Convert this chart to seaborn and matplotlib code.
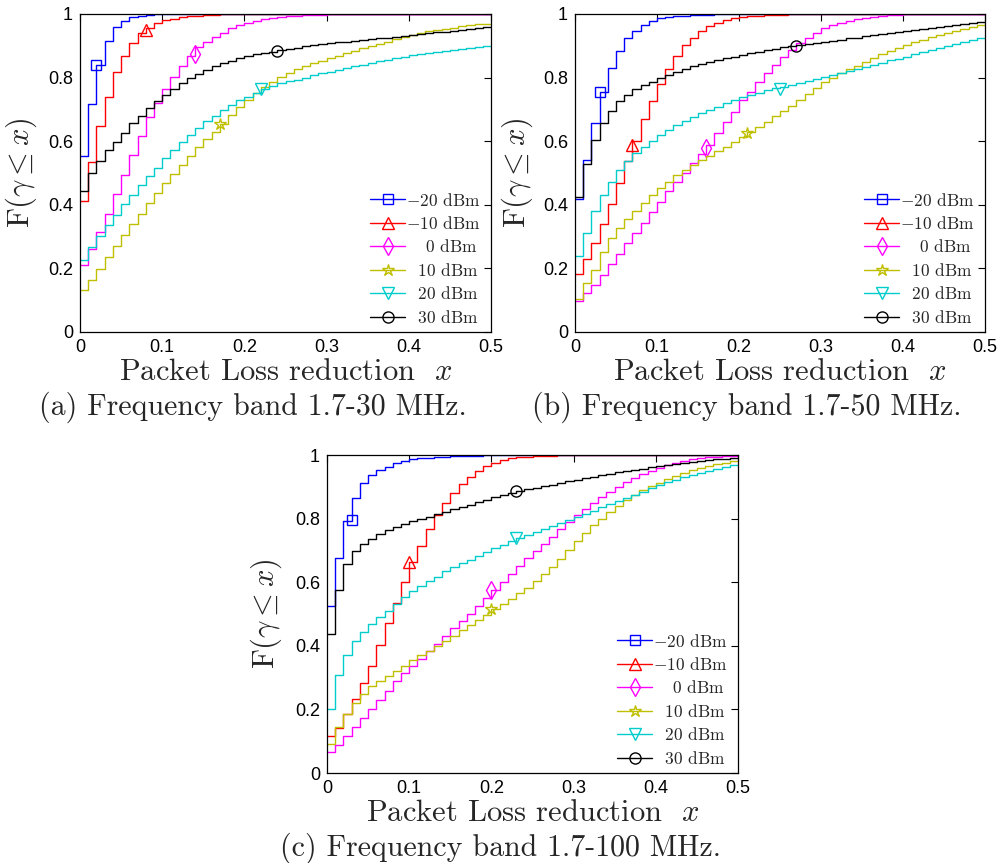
import numpy as np
import pandas as pd
import matplotlib
matplotlib.use("Agg")
import matplotlib.pyplot as plt
from matplotlib.lines import Line2D
import seaborn as sns

# ---------------- data ----------------
series_labels = ["-20 dBm", "-10 dBm", "0 dBm", "10 dBm", "20 dBm", "30 dBm"]
xtick_values = [0, 0.1, 0.2, 0.3, 0.4, 0.5]
xtick_labels = ["0", "0.1", "0.2", "0.3", "0.4", "0.5"]
ytick_values = [0, 0.2, 0.4, 0.6, 0.8, 1.0]
ytick_labels = ["0", "0.2", "0.4", "0.6", "0.8", "1"]
captions = ["(a) Frequency band 1.7-30 MHz.",
            "(b) Frequency band 1.7-50 MHz.",
            "(c) Frequency band 1.7-100 MHz."]

# CDF step values on bins of width 0.01 over [0, 0.5)
a_m20 = [0.552, 0.716, 0.839, 0.914, 0.958, 0.979, 0.990, 0.995, 0.998, 0.999,
         1.0, 1.0, 1.0, 1.0, 1.0, 1.0, 1.0, 1.0, 1.0, 1.0,
         1.0, 1.0, 1.0, 1.0, 1.0, 1.0, 1.0, 1.0, 1.0, 1.0,
         1.0, 1.0, 1.0, 1.0, 1.0, 1.0, 1.0, 1.0, 1.0, 1.0,
         1.0, 1.0, 1.0, 1.0, 1.0, 1.0, 1.0, 1.0, 1.0, 1.0]
a_m10 = [0.413, 0.536, 0.648, 0.740, 0.819, 0.869, 0.910, 0.939, 0.956, 0.971,
         0.980, 0.985, 0.990, 0.993, 0.995, 0.997, 0.998, 0.999, 0.999, 1.0,
         1.0, 1.0, 1.0, 1.0, 1.0, 1.0, 1.0, 1.0, 1.0, 1.0,
         1.0, 1.0, 1.0, 1.0, 1.0, 1.0, 1.0, 1.0, 1.0, 1.0,
         1.0, 1.0, 1.0, 1.0, 1.0, 1.0, 1.0, 1.0, 1.0, 1.0]
a_0 = [0.210, 0.261, 0.316, 0.372, 0.435, 0.494, 0.557, 0.615, 0.675, 0.720,
       0.763, 0.803, 0.838, 0.868, 0.897, 0.913, 0.929, 0.941, 0.955, 0.965,
       0.973, 0.979, 0.984, 0.988, 0.991, 0.993, 0.995, 0.996, 0.997, 0.998,
       0.999, 0.999, 1.0, 1.0, 1.0, 1.0, 1.0, 1.0, 1.0, 1.0,
       1.0, 1.0, 1.0, 1.0, 1.0, 1.0, 1.0, 1.0, 1.0, 1.0]
a_10 = [0.131, 0.164, 0.198, 0.236, 0.271, 0.306, 0.339, 0.372, 0.405, 0.437,
        0.468, 0.497, 0.526, 0.554, 0.581, 0.606, 0.630, 0.654, 0.683, 0.707,
        0.730, 0.751, 0.770, 0.787, 0.803, 0.815, 0.826, 0.836, 0.845, 0.853,
        0.861, 0.869, 0.877, 0.885, 0.892, 0.899, 0.906, 0.913, 0.920, 0.928,
        0.935, 0.940, 0.945, 0.949, 0.953, 0.957, 0.961, 0.964, 0.967, 0.970]
a_20 = [0.227, 0.266, 0.303, 0.337, 0.369, 0.403, 0.431, 0.463, 0.489, 0.515,
        0.547, 0.573, 0.599, 0.620, 0.643, 0.662, 0.680, 0.698, 0.714, 0.730,
        0.740, 0.753, 0.765, 0.774, 0.782, 0.788, 0.794, 0.800, 0.807, 0.813,
        0.819, 0.825, 0.830, 0.836, 0.841, 0.846, 0.851, 0.856, 0.861, 0.866,
        0.871, 0.874, 0.877, 0.880, 0.883, 0.886, 0.889, 0.892, 0.895, 0.898]
a_30 = [0.442, 0.499, 0.538, 0.573, 0.599, 0.625, 0.657, 0.680, 0.704, 0.725,
        0.746, 0.763, 0.782, 0.798, 0.812, 0.824, 0.835, 0.845, 0.853, 0.861,
        0.868, 0.874, 0.878, 0.882, 0.887, 0.890, 0.894, 0.898, 0.901, 0.905,
        0.908, 0.911, 0.913, 0.916, 0.918, 0.921, 0.924, 0.926, 0.929, 0.931,
        0.934, 0.937, 0.939, 0.942, 0.944, 0.947, 0.950, 0.952, 0.955, 0.958]
a_marker_x = [0.02, 0.08, 0.14, 0.17, 0.22, 0.24]
a_marker_y = [0.840, 0.950, 0.875, 0.655, 0.765, 0.885]

b_m20 = [0.418, 0.541, 0.657, 0.754, 0.829, 0.885, 0.924, 0.948, 0.965, 0.979,
         0.986, 0.990, 0.993, 0.995, 0.996, 0.997, 0.998, 0.999, 0.999, 0.999,
         1.0, 1.0, 1.0, 1.0, 1.0, 1.0, 1.0, 1.0, 1.0, 1.0,
         1.0, 1.0, 1.0, 1.0, 1.0, 1.0, 1.0, 1.0, 1.0, 1.0,
         1.0, 1.0, 1.0, 1.0, 1.0, 1.0, 1.0, 1.0, 1.0, 1.0]
b_m10 = [0.183, 0.229, 0.280, 0.339, 0.403, 0.468, 0.539, 0.602, 0.669, 0.727,
         0.779, 0.826, 0.868, 0.901, 0.926, 0.947, 0.962, 0.973, 0.981, 0.986,
         0.990, 0.993, 0.995, 0.996, 0.997, 0.998, 0.999, 0.999, 1.0, 1.0,
         1.0, 1.0, 1.0, 1.0, 1.0, 1.0, 1.0, 1.0, 1.0, 1.0,
         1.0, 1.0, 1.0, 1.0, 1.0, 1.0, 1.0, 1.0, 1.0, 1.0]
b_0 = [0.096, 0.123, 0.149, 0.180, 0.214, 0.246, 0.280, 0.311, 0.344, 0.376,
       0.410, 0.442, 0.473, 0.499, 0.531, 0.559, 0.588, 0.625, 0.659, 0.693,
       0.730, 0.756, 0.787, 0.816, 0.840, 0.864, 0.887, 0.908, 0.926, 0.941,
       0.955, 0.966, 0.973, 0.979, 0.984, 0.988, 0.991, 0.994, 0.996, 0.998,
       0.999, 1.0, 1.0, 1.0, 1.0, 1.0, 1.0, 1.0, 1.0, 1.0]
b_10 = [0.104, 0.154, 0.196, 0.253, 0.295, 0.327, 0.355, 0.382, 0.407, 0.431,
        0.452, 0.473, 0.494, 0.510, 0.525, 0.540, 0.555, 0.568, 0.583, 0.598,
        0.613, 0.628, 0.645, 0.661, 0.678, 0.695, 0.712, 0.730, 0.748, 0.766,
        0.785, 0.800, 0.813, 0.826, 0.838, 0.850, 0.862, 0.873, 0.884, 0.894,
        0.903, 0.911, 0.919, 0.927, 0.934, 0.941, 0.948, 0.954, 0.960, 0.966]
b_20 = [0.238, 0.311, 0.379, 0.431, 0.473, 0.510, 0.538, 0.562, 0.583, 0.602,
        0.620, 0.636, 0.651, 0.665, 0.677, 0.688, 0.698, 0.709, 0.719, 0.730,
        0.738, 0.746, 0.753, 0.760, 0.766, 0.772, 0.778, 0.784, 0.790, 0.796,
        0.802, 0.808, 0.815, 0.821, 0.828, 0.834, 0.841, 0.847, 0.854, 0.860,
        0.866, 0.873, 0.879, 0.886, 0.892, 0.899, 0.906, 0.912, 0.919, 0.926]
b_30 = [0.426, 0.529, 0.604, 0.657, 0.695, 0.725, 0.746, 0.763, 0.777, 0.787,
        0.798, 0.808, 0.819, 0.827, 0.835, 0.842, 0.848, 0.854, 0.861, 0.866,
        0.871, 0.876, 0.882, 0.887, 0.891, 0.895, 0.898, 0.903, 0.906, 0.909,
        0.912, 0.916, 0.919, 0.923, 0.926, 0.930, 0.933, 0.937, 0.941, 0.944,
        0.948, 0.951, 0.954, 0.957, 0.960, 0.963, 0.966, 0.969, 0.972, 0.975]
b_marker_x = [0.03, 0.07, 0.16, 0.21, 0.25, 0.27]
b_marker_y = [0.755, 0.588, 0.578, 0.625, 0.765, 0.900]

c_m20 = [0.526, 0.676, 0.792, 0.866, 0.911, 0.937, 0.953, 0.963, 0.974, 0.982,
         0.987, 0.990, 0.992, 0.994, 0.995, 0.996, 0.997, 0.998, 0.998, 0.999,
         0.999, 0.999, 0.999, 1.0, 1.0, 1.0, 1.0, 1.0, 1.0, 1.0,
         1.0, 1.0, 1.0, 1.0, 1.0, 1.0, 1.0, 1.0, 1.0, 1.0,
         1.0, 1.0, 1.0, 1.0, 1.0, 1.0, 1.0, 1.0, 1.0, 1.0]
c_m10 = [0.115, 0.143, 0.185, 0.232, 0.283, 0.338, 0.401, 0.471, 0.536, 0.602,
         0.665, 0.715, 0.767, 0.812, 0.850, 0.882, 0.909, 0.930, 0.951, 0.966,
         0.976, 0.984, 0.990, 0.993, 0.995, 0.996, 0.997, 0.998, 0.999, 0.999,
         1.0, 1.0, 1.0, 1.0, 1.0, 1.0, 1.0, 1.0, 1.0, 1.0,
         1.0, 1.0, 1.0, 1.0, 1.0, 1.0, 1.0, 1.0, 1.0, 1.0]
c_0 = [0.066, 0.089, 0.115, 0.144, 0.173, 0.202, 0.230, 0.259, 0.289, 0.314,
       0.336, 0.360, 0.384, 0.405, 0.430, 0.455, 0.478, 0.500, 0.525, 0.550,
       0.575, 0.600, 0.625, 0.650, 0.675, 0.698, 0.720, 0.743, 0.766, 0.788,
       0.810, 0.830, 0.850, 0.868, 0.885, 0.900, 0.914, 0.927, 0.939, 0.950,
       0.960, 0.968, 0.975, 0.981, 0.986, 0.990, 0.993, 0.995, 0.997, 0.998]
c_10 = [0.092, 0.144, 0.186, 0.220, 0.249, 0.275, 0.290, 0.305, 0.320, 0.338,
        0.356, 0.370, 0.385, 0.400, 0.415, 0.430, 0.450, 0.465, 0.482, 0.498,
        0.515, 0.530, 0.547, 0.565, 0.583, 0.603, 0.625, 0.648, 0.672, 0.700,
        0.730, 0.755, 0.780, 0.800, 0.820, 0.840, 0.860, 0.875, 0.890, 0.902,
        0.912, 0.925, 0.935, 0.944, 0.952, 0.959, 0.965, 0.971, 0.976, 0.981]
c_20 = [0.200, 0.309, 0.372, 0.414, 0.442, 0.469, 0.492, 0.510, 0.531, 0.555,
        0.573, 0.588, 0.603, 0.617, 0.634, 0.647, 0.660, 0.670, 0.683, 0.695,
        0.707, 0.717, 0.728, 0.738, 0.748, 0.757, 0.767, 0.776, 0.786, 0.795,
        0.805, 0.815, 0.825, 0.835, 0.845, 0.855, 0.865, 0.875, 0.885, 0.895,
        0.905, 0.914, 0.922, 0.930, 0.937, 0.943, 0.949, 0.955, 0.961, 0.967]
c_30 = [0.437, 0.577, 0.656, 0.697, 0.720, 0.735, 0.751, 0.763, 0.774, 0.782,
        0.791, 0.800, 0.806, 0.814, 0.822, 0.829, 0.837, 0.844, 0.853, 0.860,
        0.867, 0.874, 0.880, 0.887, 0.892, 0.897, 0.902, 0.907, 0.912, 0.917,
        0.922, 0.927, 0.932, 0.937, 0.941, 0.945, 0.949, 0.953, 0.957, 0.961,
        0.965, 0.968, 0.971, 0.974, 0.977, 0.980, 0.983, 0.986, 0.988, 0.990]
c_marker_x = [0.03, 0.10, 0.20, 0.20, 0.23, 0.23]
c_marker_y = [0.795, 0.665, 0.575, 0.515, 0.740, 0.888]

# ---------------- style ----------------
sns.set_style("white")
plt.rcParams["mathtext.fontset"] = "cm"
plt.rcParams["font.family"] = ["Liberation Sans", "DejaVu Sans"]

colors = ["#0000FF", "#FF0000", "#FF00FF", "#BFBF00", "#00CCCC", "#000000"]
markers = ["s", "^", "d", "*", "v", "o"]
msizes = [7, 9, 9, 9, 9, 8]
legend_texts = [r"$-$20 dBm", r"$-$10 dBm", r"$\quad\;$0 dBm",
                r"$\enspace\;$10 dBm", r"$\enspace\;$20 dBm", r"$\enspace\;$30 dBm"]

W, H = 1002, 863
fig = plt.figure(figsize=(W / 100, H / 100), dpi=100)

def px_axes(l, t, r, b):
    return fig.add_axes([l / W, 1 - b / H, (r - l) / W, (b - t) / H])

panels = [
    dict(box=(80, 14, 491, 332), data=[a_m20, a_m10, a_0, a_10, a_20, a_30],
         mx=a_marker_x, my=a_marker_y, cap_xy=(253, 407), ylab_x=39),
    dict(box=(575, 14, 985, 332), data=[b_m20, b_m10, b_0, b_10, b_20, b_30],
         mx=b_marker_x, my=b_marker_y, cap_xy=(747, 407), ylab_x=535),
    dict(box=(327, 455, 738, 773), data=[c_m20, c_m10, c_0, c_10, c_20, c_30],
         mx=c_marker_x, my=c_marker_y, cap_xy=(500, 848), ylab_x=284),
]

x_edges = np.linspace(0.0, 0.5, 51)

for k, p in enumerate(panels):
    l, t, r, b = p["box"]
    ax = px_axes(l, t, r, b)
    for i, vals in enumerate(p["data"]):
        df = pd.DataFrame({"x": x_edges, "F": list(vals) + [vals[-1]]})
        sns.lineplot(data=df, x="x", y="F", ax=ax, color=colors[i],
                     drawstyle="steps-post", linewidth=1.0, legend=False)
        sns.lineplot(x=[p["mx"][i]], y=[p["my"][i]], ax=ax, color=colors[i],
                     marker=markers[i], markersize=msizes[i],
                     markerfacecolor="none", markeredgecolor=colors[i],
                     markeredgewidth=1.0, linewidth=0, legend=False)
    ax.set_xlim(0, 0.5)
    ax.set_ylim(0, 1)
    ax.set_xticks(xtick_values)
    ax.set_xticklabels(xtick_labels)
    ax.set_yticks(ytick_values)
    ax.set_yticklabels(ytick_labels)
    ax.tick_params(direction="in", length=5, width=0.8, top=True, right=True,
                   labelsize=13, pad=5, colors="black")
    for s in ax.spines.values():
        s.set_color("black")
        s.set_linewidth(0.9)
        s.set_visible(True)
    ax.set_xlabel(r"Packet Loss reduction  $x$", fontfamily="cmr10",
                  fontsize=22, labelpad=2)
    ax.set_ylabel(r"F($\gamma\leq x$)", fontfamily="cmr10", fontsize=22)
    ax.yaxis.set_label_coords((p["ylab_x"] - l) / (r - l), 0.5)

    handles = [Line2D([], [], color=colors[i], marker=markers[i],
                      markersize=msizes[i], markerfacecolor="none",
                      markeredgecolor=colors[i], linewidth=1.0)
               for i in range(6)]
    ax.legend(handles, legend_texts, loc="lower right",
              bbox_to_anchor=(0.975, 0.02), frameon=False,
              prop={"family": "cmr10", "size": 12.5},
              handlelength=2.0, handletextpad=0.05, labelspacing=0.37,
              borderpad=0, borderaxespad=0)

    cx, cy = p["cap_xy"]
    fig.text(cx / W, 1 - cy / H, captions[k], fontfamily="cmr10",
             fontsize=21.5, ha="center", va="center")

fig.savefig("out.png", dpi=100, facecolor="white")
